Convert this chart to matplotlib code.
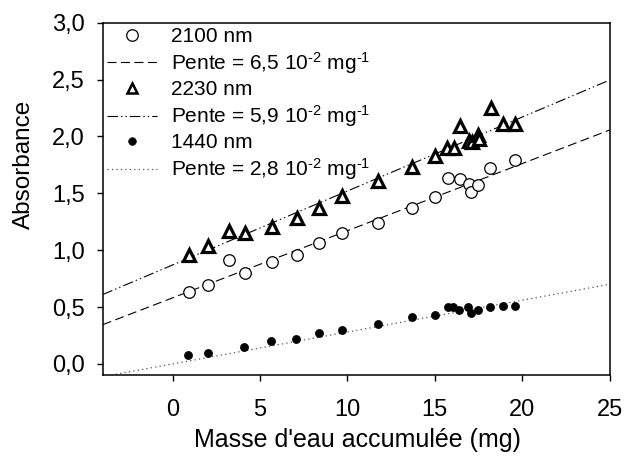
import matplotlib
matplotlib.use("Agg")
import matplotlib.pyplot as plt
import numpy as np
from matplotlib.lines import Line2D
from matplotlib.ticker import FuncFormatter

plt.rcParams['font.family'] = ['Liberation Sans', 'DejaVu Sans']
plt.rcParams['mathtext.fontset'] = 'custom'
plt.rcParams['mathtext.rm'] = 'Liberation Sans'
plt.rcParams['mathtext.it'] = 'Liberation Sans:italic'
plt.rcParams['lines.scale_dashes'] = False

# Measurements: accumulated water mass (mg) vs absorbance
x_2100 = [0.91, 2.03, 3.22, 4.12, 5.66, 7.09, 8.39, 9.70, 11.74, 13.71,
          15.00, 15.77, 16.42, 16.95, 17.07, 17.45, 18.17, 19.60]
y_2100 = [0.63, 0.69, 0.91, 0.80, 0.90, 0.96, 1.06, 1.15, 1.24, 1.37,
          1.47, 1.635, 1.63, 1.585, 1.515, 1.57, 1.72, 1.79]

x_2230 = [0.91, 2.03, 3.22, 4.12, 5.66, 7.09, 8.39, 9.72, 11.74, 13.71,
          15.01, 15.73, 16.10, 16.44, 16.97, 17.14, 17.45, 17.54, 18.20, 18.92, 19.60]
y_2230 = [0.96, 1.04, 1.17, 1.15, 1.20, 1.28, 1.37, 1.48, 1.61, 1.73,
          1.83, 1.90, 1.90, 2.09, 1.96, 1.95, 2.01, 1.98, 2.25, 2.11, 2.11]

x_1440 = [0.90, 2.00, 4.10, 5.64, 7.07, 8.37, 9.68, 11.74, 13.71, 15.00,
          15.77, 16.02, 16.40, 16.91, 17.07, 17.49, 18.17, 18.88, 19.58]
y_1440 = [0.08, 0.10, 0.15, 0.20, 0.22, 0.27, 0.30, 0.35, 0.41, 0.43,
          0.50, 0.50, 0.47, 0.50, 0.45, 0.47, 0.50, 0.51, 0.51]

# Linear fits (slope in mg^-1, intercept)
slope_2100, icpt_2100 = 0.059, 0.581
slope_2230, icpt_2230 = 0.065, 0.870
slope_1440, icpt_1440 = 0.028, 0.000

legend_labels = ["2100 nm", r"Pente = 6,5 10$^{\text{-2}}$ mg$^{\text{-1}}$",
                 "2230 nm", r"Pente = 5,9 10$^{\text{-2}}$ mg$^{\text{-1}}$",
                 "1440 nm", r"Pente = 2,8 10$^{\text{-2}}$ mg$^{\text{-1}}$"]

x_ticks = [0, 5, 10, 15, 20, 25]
y_ticks = [0.0, 0.5, 1.0, 1.5, 2.0, 2.5, 3.0]

W, H = 624, 459
fig = plt.figure(figsize=(W / 100, H / 100), dpi=100)
ax = fig.add_axes([102.7 / W, 1 - 375.3 / H, (609.5 - 102.7) / W, (375.3 - 22.7) / H])

xlim = (-4, 25)
xs = np.array(xlim, dtype=float)

dash_style = (0, (6.5, 3.2))
dashdot_style = (0, (7.5, 2.2, 1.0, 2.2, 1.0, 2.2))
dot_style = (0, (0.9, 2.3))

ax.plot(xs, icpt_2100 + slope_2100 * xs, color='black', lw=0.8, linestyle=dash_style, zorder=2)
ax.plot(xs, icpt_2230 + slope_2230 * xs, color='black', lw=0.8, linestyle=dashdot_style, zorder=2)
ax.plot(xs, icpt_1440 + slope_1440 * xs, color='#555555', lw=0.9, linestyle=dot_style, zorder=2)

circ_kw = dict(marker='o', markersize=8.3, markerfacecolor='white',
               markeredgecolor='black', markeredgewidth=0.9, linestyle='none')
tri_kw = dict(marker='^', markersize=8.3, markerfacecolor='white',
              markeredgecolor='black', markeredgewidth=2.3, linestyle='none')
dot_kw = dict(marker='o', markersize=5.8, markerfacecolor='black',
              markeredgecolor='black', markeredgewidth=0.5, linestyle='none')

ax.plot(x_2100, y_2100, zorder=3, **circ_kw)
ax.plot(x_2230, y_2230, zorder=3, **tri_kw)
ax.plot(x_1440, y_1440, zorder=3, **dot_kw)

ax.set_xlim(*xlim)
ax.set_ylim(-0.1, 3.0)
ax.set_xticks(x_ticks)
ax.set_yticks(y_ticks)
ax.yaxis.set_major_formatter(FuncFormatter(lambda v, p: f"{v:.1f}".replace('.', ',')))

for s in ax.spines.values():
    s.set_linewidth(1.1)
ax.tick_params(axis='both', direction='out', length=4, width=1.0, labelsize=17)
ax.tick_params(axis='x', pad=13)
ax.tick_params(axis='y', pad=9)

fig.text(357 / W, 1 - 440 / H, "Masse d'eau accumulée (mg)", fontsize=18,
         ha='center', va='center')
fig.text(24 / W, 1 - 164 / H, "Absorbance", fontsize=17.5, rotation=90,
         ha='center', va='center')

handles = [
    Line2D([], [], **circ_kw),
    Line2D([], [], color='black', lw=0.8, linestyle=dash_style),
    Line2D([], [], **{**tri_kw, 'markersize': 6.5, 'markeredgewidth': 1.8}),
    Line2D([], [], color='black', lw=0.8, linestyle=dashdot_style),
    Line2D([], [], **{**dot_kw, 'markersize': 5.5}),
    Line2D([], [], color='#555555', lw=0.9, linestyle=dot_style),
]
ax.legend(handles, legend_labels, loc='upper left', bbox_to_anchor=(0.0, 1.0),
          frameon=False, fontsize=15, handlelength=2.4, handletextpad=0.7,
          labelspacing=0.2, borderaxespad=0.2, borderpad=0.0)

fig.savefig("out.png", dpi=100)
